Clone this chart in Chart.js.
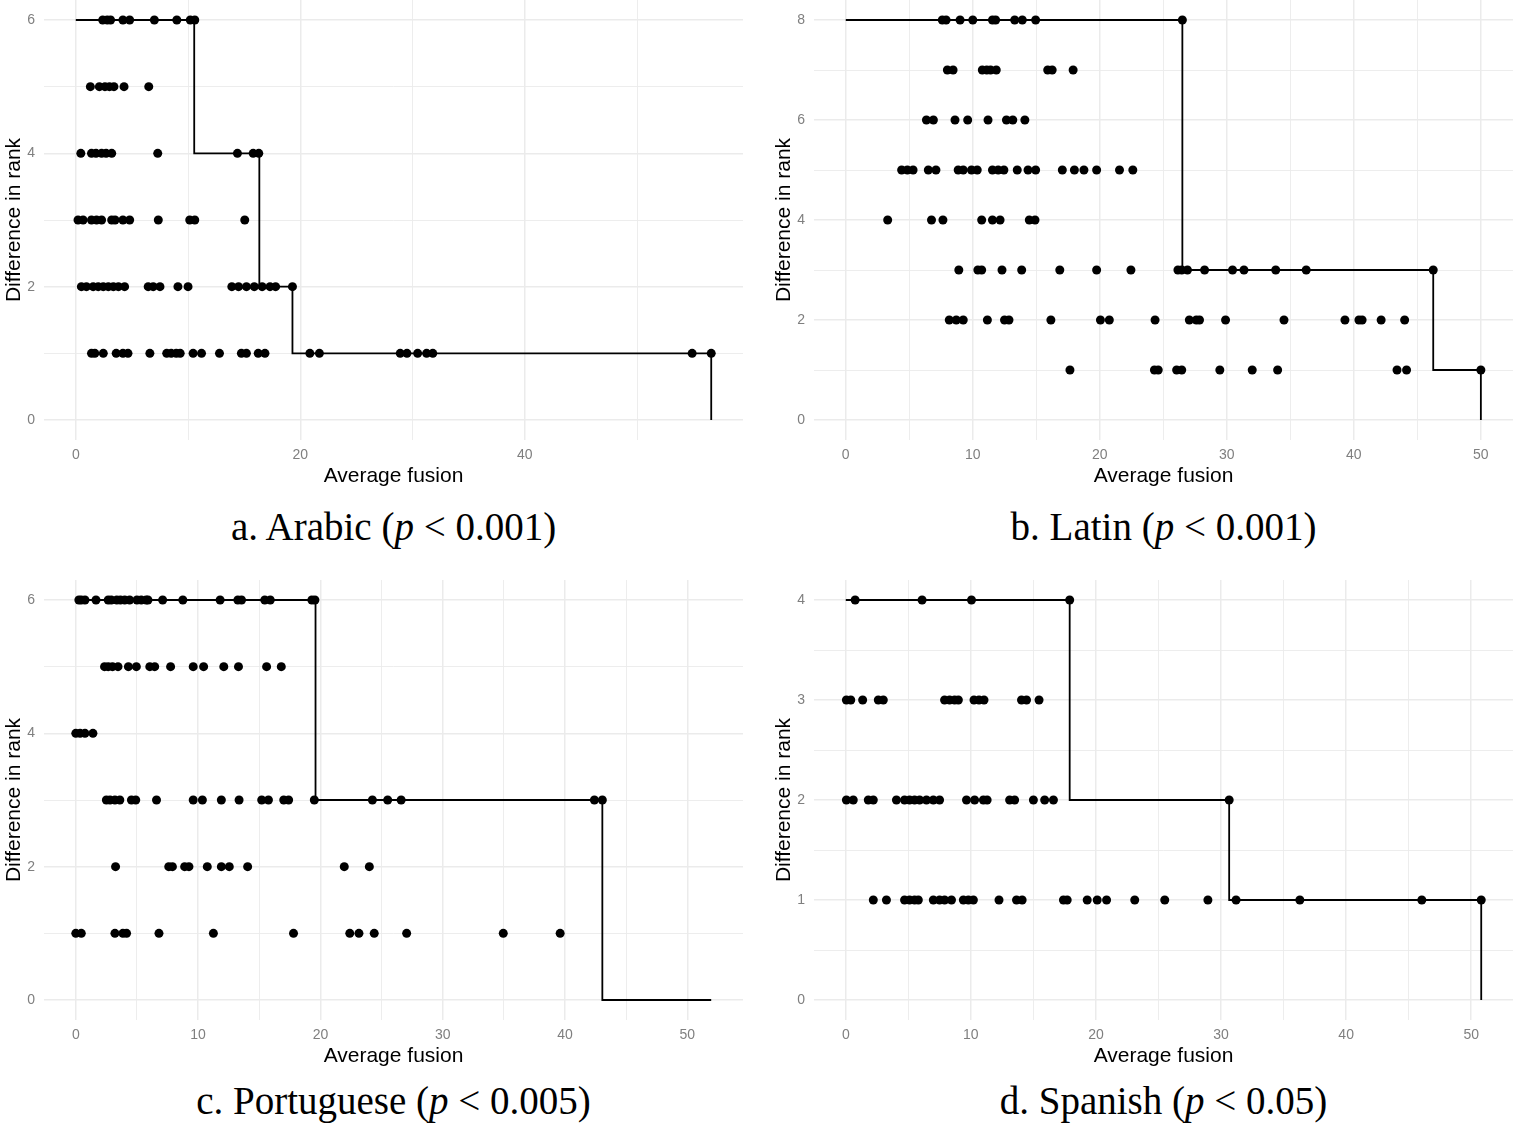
<!DOCTYPE html>
<html>
<head>
<meta charset="utf-8">
<script src="https://cdn.jsdelivr.net/npm/chart.js@4.4.1/dist/chart.umd.min.js"></script>
<style>
  html, body { margin: 0; padding: 0; background: #fff; }
  body { width: 1513px; height: 1127px; position: relative; overflow: hidden; }
  .panel { position: absolute; }
  .caption {
    position: absolute; width: 699px; text-align: center;
    font-family: "Liberation Serif", "Times New Roman", serif;
    font-size: 39px; line-height: 40px; color: #000;
  }
</style>
</head>
<body>
<div class="panel" style="left:0;top:0;width:756px;height:490px"><canvas id="arabic"></canvas></div>
<div class="panel" style="left:770px;top:0;width:743px;height:490px"><canvas id="latin"></canvas></div>
<div class="panel" style="left:0;top:580px;width:756px;height:490px"><canvas id="portuguese"></canvas></div>
<div class="panel" style="left:770px;top:580px;width:743px;height:490px"><canvas id="spanish"></canvas></div>

<div class="caption" style="left:44px;top:507px">a. Arabic (<i>p</i> &lt; 0.001)</div>
<div class="caption" style="left:814px;top:507px">b. Latin (<i>p</i> &lt; 0.001)</div>
<div class="caption" style="left:44px;top:1081px">c. Portuguese (<i>p</i> &lt; 0.005)</div>
<div class="caption" style="left:814px;top:1081px">d. Spanish (<i>p</i> &lt; 0.05)</div>

<script>
// ===== Data (average fusion values at each difference in rank) =====

// a. Arabic
const arabicRank6 = [2.4, 2.8, 3.1, 4.2, 4.8, 7.0, 9.0, 10.2, 10.6];
const arabicRank5 = [1.3, 2.1, 2.6, 3.0, 3.4, 4.3, 6.5];
const arabicRank4 = [0.45, 1.4, 1.8, 2.3, 2.7, 3.2, 7.3, 14.4, 15.8, 16.3];
const arabicRank3 = [0.2, 0.65, 1.4, 1.85, 2.3, 3.2, 3.5, 4.2, 4.8, 7.35, 10.15, 10.6, 15.05];
const arabicRank2 = [0.5, 0.95, 1.55, 2.0, 2.45, 2.9, 3.35, 3.8, 4.35, 6.45, 6.9, 7.5, 9.1, 10.0,
  13.9, 14.5, 15.2, 15.9, 16.6, 17.3, 17.8, 19.3];
const arabicRank1 = [1.4, 1.7, 2.45, 3.6, 4.2, 4.65, 6.6, 8.1, 8.5, 8.95, 9.3, 10.45, 11.2, 12.8,
  14.75, 15.2, 16.25, 16.85, 20.85, 21.7, 28.9, 29.5, 30.45, 31.25, 31.8, 54.9, 56.6];
const arabicStepX = [0, 10.55, 16.35, 19.3, 56.6];
const arabicStepY = [6, 4, 2, 1, 0];

// b. Latin
const latinRank8 = [7.6, 7.9, 9.0, 10.0, 11.55, 11.8, 13.3, 13.9, 14.95, 26.5];
const latinRank7 = [8.0, 8.45, 10.75, 11.1, 11.4, 11.85, 15.9, 16.25, 17.9];
const latinRank6 = [6.35, 6.9, 8.6, 9.6, 11.2, 12.65, 13.15, 14.1];
const latinRank5 = [4.4, 4.85, 5.3, 6.5, 7.1, 8.85, 9.25, 9.9, 10.35, 11.55, 12.0, 12.45, 13.5,
  14.35, 14.95, 17.05, 18.0, 18.75, 19.75, 21.55, 22.6];
const latinRank4 = [3.3, 6.75, 7.65, 10.7, 11.55, 12.15, 14.45, 14.9];
const latinRank3 = [8.9, 10.4, 10.7, 12.3, 13.85, 16.85, 19.75, 22.45, 26.15, 26.45, 26.9, 28.25,
  30.45, 31.35, 33.85, 36.25, 46.25];
const latinRank2 = [8.15, 8.7, 9.25, 11.15, 12.5, 12.85, 16.15, 20.05, 20.75, 24.35, 27.05, 27.6,
  27.85, 29.9, 34.5, 39.3, 40.4, 40.65, 42.15, 44.0];
const latinRank1 = [17.65, 24.3, 24.6, 26.05, 26.45, 29.45, 32.0, 34.0, 43.4, 44.15, 50.0];
const latinStepX = [0, 26.5, 46.25, 50.0];
const latinStepY = [8, 3, 1, 0];

// c. Portuguese
const portRank6 = [0.25, 0.45, 0.75, 1.65, 2.65, 2.9, 3.35, 3.65, 4.0, 4.4, 5.0, 5.35, 5.75, 5.9,
  7.1, 8.75, 11.8, 13.25, 13.55, 15.45, 15.9, 19.3, 19.55];
const portRank5 = [2.35, 2.65, 3.0, 3.45, 4.3, 4.95, 6.05, 6.45, 7.75, 9.6, 10.45, 12.1, 13.3, 15.6, 16.8];
const portRank4 = [0.0, 0.35, 0.75, 1.4];
const portRank3 = [2.5, 2.8, 3.2, 3.6, 4.55, 4.9, 6.6, 9.6, 10.35, 11.9, 13.35, 15.2, 15.75, 17.0,
  17.4, 19.5, 24.25, 25.5, 26.6, 42.4, 43.05];
const portRank2 = [3.25, 7.6, 7.9, 8.9, 9.25, 10.75, 11.9, 12.55, 14.05, 21.95, 24.0];
const portRank1 = [0.0, 0.45, 3.2, 3.85, 4.15, 6.8, 11.25, 17.8, 22.4, 23.15, 24.4, 27.05, 34.95, 39.6];
const portStepX = [0, 19.6, 43.05, 51.95];
const portStepY = [6, 3, 0, 0];

// d. Spanish
const spanRank4 = [0.75, 6.1, 10.05, 17.9];
const spanRank3 = [0.05, 0.4, 1.35, 2.6, 3.0, 7.9, 8.3, 8.7, 9.0, 10.25, 10.65, 11.05, 14.05, 14.45, 15.45];
const spanRank2 = [0.05, 0.6, 1.8, 2.2, 4.05, 4.7, 5.1, 5.5, 5.9, 6.45, 7.0, 7.5, 9.65, 10.3, 11.0,
  11.3, 13.1, 13.5, 15.0, 15.9, 16.6, 30.65];
const spanRank1 = [2.2, 3.25, 4.7, 5.1, 5.5, 5.8, 7.0, 7.5, 7.9, 8.45, 9.4, 9.8, 10.2, 12.25, 13.65,
  14.1, 17.4, 17.7, 19.3, 20.1, 20.85, 23.1, 25.5, 28.95, 31.2, 36.3, 46.05, 50.8];
const spanStepX = [0, 17.9, 30.65, 50.8];
const spanStepY = [4, 2, 1, 0];

// ===== Helpers =====
const FONT = '"Liberation Sans", Arial, Helvetica, sans-serif';
const GRID = "#ebebeb";

function isMajor(v, labelStep) {
  const r = Math.abs(v / labelStep - Math.round(v / labelStep));
  return r < 1e-6;
}

function toPoints(rows) {
  const pts = [];
  rows.forEach(([rank, xs]) => xs.forEach(x => pts.push({ x: x, y: rank })));
  return pts;
}

function makeAxis(isX, min, max, step, labelStep, title) {
  return {
    type: "linear",
    min: min,
    max: max,
    border: { display: false },
    grid: {
      color: GRID,
      drawTicks: false,
      lineWidth: c => (c.tick && isMajor(c.tick.value, labelStep)) ? 1.5 : 0.9
    },
    ticks: {
      stepSize: step,
      includeBounds: false,
      autoSkip: false,
      maxTicksLimit: 100,
      maxRotation: 0,
      padding: isX ? 7 : 9,
      color: "#7f7f7f",
      font: { family: FONT, size: 14 },
      callback: v => isMajor(v, labelStep) ? String(v) : ""
    },
    title: {
      display: true,
      text: title,
      color: "#000",
      font: { family: FONT, size: 21 },
      padding: isX ? { top: 0, bottom: 1 } : { top: 2, bottom: 0 }
    },
    afterFit: s => {
      // keep the plot panel flush with the box, ggplot-style
      s.paddingTop = 0; s.paddingBottom = 0; s.paddingLeft = 0; s.paddingRight = 0;
      if (isX) s.height = 50; else s.width = 44;
    }
  };
}

function fusionChart(id, rows, stepX, stepY, xr, yr, padRight) {
  const stepData = stepX.map((x, i) => ({ x: x, y: stepY[i] }));
  new Chart(document.getElementById(id), {
    type: "scatter",
    data: {
      datasets: [
        {
          type: "line",
          data: stepData,
          showLine: true,
          stepped: "before",
          borderColor: "#000",
          borderWidth: 1.8,
          pointRadius: 0,
          fill: false
        },
        {
          type: "scatter",
          data: toPoints(rows),
          backgroundColor: "#000",
          borderColor: "#000",
          borderWidth: 0,
          pointRadius: 4.5
        }
      ]
    },
    options: {
      responsive: true,
      maintainAspectRatio: false,
      animation: false,
      layout: { autoPadding: false, padding: { top: 0, right: padRight, bottom: 0, left: 0 } },
      plugins: { legend: { display: false }, tooltip: { enabled: false } },
      scales: {
        x: makeAxis(true, xr[0], xr[1], xr[2], xr[3], "Average fusion"),
        y: makeAxis(false, yr[0], yr[1], yr[2], yr[3], "Difference in rank")
      }
    }
  });
}

// ===== Charts =====
fusionChart("arabic",
  [[6, arabicRank6], [5, arabicRank5], [4, arabicRank4], [3, arabicRank3], [2, arabicRank2], [1, arabicRank1]],
  arabicStepX, arabicStepY, [-2.83, 59.43, 10, 20], [-0.3, 6.3, 1, 2], 13);

fusionChart("latin",
  [[8, latinRank8], [7, latinRank7], [6, latinRank6], [5, latinRank5], [4, latinRank4],
   [3, latinRank3], [2, latinRank2], [1, latinRank1]],
  latinStepX, latinStepY, [-2.5, 52.53, 5, 10], [-0.4, 8.4, 1, 2], 0);

fusionChart("portuguese",
  [[6, portRank6], [5, portRank5], [4, portRank4], [3, portRank3], [2, portRank2], [1, portRank1]],
  portStepX, portStepY, [-2.6, 54.55, 5, 10], [-0.3, 6.3, 1, 2], 13);

fusionChart("spanish",
  [[4, spanRank4], [3, spanRank3], [2, spanRank2], [1, spanRank1]],
  spanStepX, spanStepY, [-2.54, 53.34, 5, 10], [-0.2, 4.2, 0.5, 1], 0);
</script>
</body>
</html>
